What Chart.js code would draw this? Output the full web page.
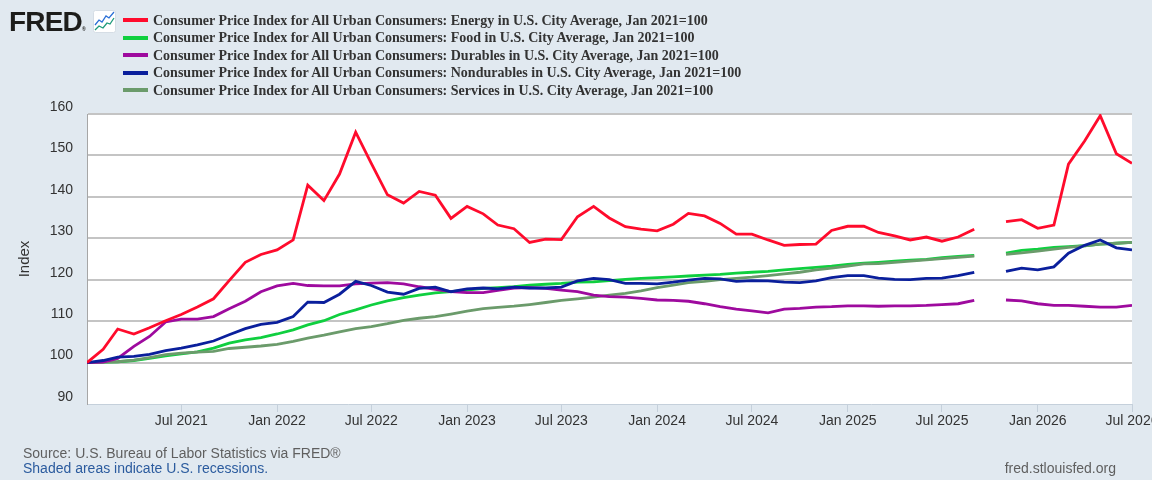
<!DOCTYPE html>
<html>
<head>
<meta charset="utf-8">
<script src="https://cdn.jsdelivr.net/npm/chart.js@4.4.1/dist/chart.umd.min.js"></script>
<style>
    html, body { margin: 0; padding: 0; width: 1152px; height: 480px; overflow: hidden; background: #e1e9f0; }
    #wrap { position: relative; width: 1152px; height: 480px; overflow: hidden; }
    #cpi-graph { position: absolute; left: 0; top: 0; }
    .logo { position: absolute; left: 9px; top: 6px; font: bold 28px "Liberation Sans", Arial, sans-serif; color: #1d1d1b; letter-spacing: -0.8px; }
    .logo sup { font-size: 5px; vertical-align: 0; letter-spacing: 0; }
    .logo-icon { position: absolute; left: 93px; top: 10px; }
    .legend { position: absolute; left: 123px; top: 12.5px; margin: 0; padding: 0; list-style: none; }
    .legend li { height: 17.5px; line-height: 17.5px; white-space: nowrap; font: bold 14px "Liberation Serif", "Times New Roman", serif; color: #333; }
    .legend .sw { display: inline-block; width: 25px; height: 4px; vertical-align: middle; margin-right: 5px; position: relative; top: -1px; }
    .foot { position: absolute; font: 14px "Liberation Sans", Arial, sans-serif; line-height: 15px; color: #5f5f5f; white-space: nowrap; }
</style>
</head>
<body>
<div id="wrap">
    <canvas id="cpi-graph" width="1200" height="480"></canvas>
    <div class="logo">FRED<sup>&reg;</sup></div>
    <svg class="logo-icon" width="23" height="23" viewBox="0 0 23 23">
        <rect x="0.5" y="0.5" width="22" height="22" rx="2" fill="#fff" stroke="#d5dde5"/>
        <polyline points="2,15 6,10 9,12 13,6 16,8 21,2" fill="none" stroke="#2a6fd6" stroke-width="1.3"/>
        <polyline points="2,20 6,16 10,18 14,13 17,14 21,8" fill="none" stroke="#1f9a7a" stroke-width="1.3"/>
    </svg>
    <ul class="legend" id="legend"></ul>
    <div class="foot" style="left:23px; top:446px;">Source: U.S. Bureau of Labor Statistics via FRED&reg;</div>
    <div class="foot" style="left:23px; top:461px; color:#2b5b9e;">Shaded areas indicate U.S. recessions.</div>
    <div class="foot" style="right:36px; top:461px;">fred.stlouisfed.org</div>
</div>
<script>
// monthly observations, Jan 2021 .. Jul 2026 (Oct 2025 missing)
const months = [];
for (let y = 2021; y <= 2026; y++) {
    for (let m = 1; m <= 12; m++) {
        if (y < 2026 || m <= 7) months.push(y + '-' + String(m).padStart(2, '0'));
    }
}

const tickMonths = ['2021-07', '2022-01', '2022-07', '2023-01', '2023-07', '2024-01',
    '2024-07', '2025-01', '2025-07', '2026-01', '2026-07'];
const tickLabels = ['Jul 2021', 'Jan 2022', 'Jul 2022', 'Jan 2023', 'Jul 2023', 'Jan 2024',
    'Jul 2024', 'Jan 2025', 'Jul 2025', 'Jan 2026', 'Jul 2026'];

const energy = [
    100.0, 103.2, 108.1, 106.9, 108.4, 110.1, 111.6, 113.4, 115.4, 119.8, 124.2, 126.1,
    127.2, 129.6, 142.8, 139.1, 145.5, 155.6, 148.1, 140.5, 138.5, 141.3, 140.4, 134.8,
    137.7, 135.9, 133.2, 132.3, 129.0, 129.8, 129.7, 135.2, 137.7, 134.9, 132.8, 132.2,
    131.8, 133.4, 136.0, 135.4, 133.6, 131.0, 131.0, 129.6, 128.3, 128.5, 128.6, 131.9,
    132.9, 132.9, 131.4, 130.6, 129.6, 130.3, 129.3, 130.3, 132.2, null, 134.0, 134.5,
    132.4, 133.2, 147.9, 153.5, 159.6, 150.4, 148.1
];
const food = [
    100.0, 100.1, 100.2, 100.5, 101.0, 101.6, 102.1, 102.6, 103.5, 104.7, 105.5, 106.0,
    106.9, 107.9, 109.1, 110.1, 111.6, 112.7, 113.9, 114.9, 115.7, 116.3, 116.8, 117.1,
    117.5, 117.9, 118.1, 118.3, 118.7, 118.9, 119.1, 119.4, 119.5, 119.8, 120.1, 120.3,
    120.5, 120.7, 120.9, 121.1, 121.3, 121.6, 121.8, 122.0, 122.4, 122.7, 123.0, 123.3,
    123.7, 124.0, 124.2, 124.5, 124.7, 124.9, 125.3, 125.6, 125.9, null, 126.4, 127.1,
    127.4, 127.8, 128.0, 128.2, 128.6, 128.8, 129.0
];
const durables = [
    100.0, 100.1, 101.0, 103.9, 106.3, 109.8, 110.5, 110.5, 111.1, 113.0, 114.8, 117.1,
    118.5, 119.1, 118.6, 118.5, 118.5, 119.0, 119.2, 119.3, 119.0, 118.3, 117.7, 117.1,
    116.9, 116.9, 117.4, 118.0, 118.1, 117.9, 117.5, 117.1, 116.3, 115.9, 115.8, 115.5,
    115.1, 115.0, 114.8, 114.2, 113.5, 112.9, 112.5, 112.0, 112.9, 113.1, 113.4, 113.5,
    113.7, 113.7, 113.6, 113.7, 113.7, 113.8, 114.0, 114.2, 115.0, null, 115.1, 114.9,
    114.2, 113.8, 113.8, 113.6, 113.4, 113.4, 113.8
];
const nondurables = [
    100.0, 100.5, 101.3, 101.5, 102.0, 102.9, 103.5, 104.3, 105.2, 106.7, 108.2, 109.2,
    109.7, 111.1, 114.6, 114.5, 116.5, 119.6, 118.6, 117.0, 116.5, 117.9, 118.2, 117.1,
    117.8, 118.0, 117.8, 118.2, 118.0, 118.0, 118.2, 119.7, 120.3, 120.0, 119.1, 119.1,
    119.0, 119.4, 119.9, 120.3, 120.2, 119.6, 119.8, 119.7, 119.4, 119.3, 119.7, 120.5,
    121.0, 121.0, 120.4, 120.1, 120.0, 120.3, 120.4, 121.0, 121.8, null, 122.0, 122.8,
    122.4, 123.1, 126.4, 128.3, 129.6, 127.7, 127.2
];
const services = [
    100.0, 100.1, 100.2, 100.6, 101.2, 101.9, 102.3, 102.5, 102.7, 103.4, 103.7, 104.0,
    104.4, 105.1, 105.9, 106.6, 107.4, 108.2, 108.7, 109.4, 110.2, 110.7, 111.1, 111.7,
    112.4, 113.0, 113.3, 113.6, 114.0, 114.5, 115.0, 115.4, 115.8, 116.3, 116.7, 117.3,
    118.1, 118.7, 119.3, 119.6, 120.0, 120.3, 120.6, 121.0, 121.4, 121.8, 122.4, 122.8,
    123.3, 123.8, 123.9, 124.2, 124.5, 124.8, 125.1, 125.4, 125.7, null, 126.1, 126.5,
    126.9, 127.4, 127.8, 128.2, 128.6, 128.8, 129.0
];

const series = [
    { label: 'Consumer Price Index for All Urban Consumers: Energy in U.S. City Average, Jan 2021=100', data: energy, color: '#ff0b2c', order: 0 },
    { label: 'Consumer Price Index for All Urban Consumers: Food in U.S. City Average, Jan 2021=100', data: food, color: '#0fcf3f', order: 4 },
    { label: 'Consumer Price Index for All Urban Consumers: Durables in U.S. City Average, Jan 2021=100', data: durables, color: '#9e0a9e', order: 2 },
    { label: 'Consumer Price Index for All Urban Consumers: Nondurables in U.S. City Average, Jan 2021=100', data: nondurables, color: '#0a1f9c', order: 1 },
    { label: 'Consumer Price Index for All Urban Consumers: Services in U.S. City Average, Jan 2021=100', data: services, color: '#6b9b6b', order: 3 },
];

function month_to_day(s) {
    const parts = s.split('-');
    return Date.UTC(+parts[0], +parts[1] - 1, 1) / 86400000;
}

const monthDays = months.map(month_to_day);
const tickDays = tickMonths.map(month_to_day);

// legend drawn as html rows next to the logo
const legend = document.getElementById('legend');
series.forEach(s => {
    const li = document.createElement('li');
    const sw = document.createElement('span');
    sw.className = 'sw';
    sw.style.background = s.color;
    li.appendChild(sw);
    li.appendChild(document.createTextNode(s.label));
    legend.appendChild(li);
});

const plotBackground = {
    id: 'plotBackground',
    beforeDraw(chart) {
        const {ctx, chartArea: a} = chart;
        ctx.save();
        ctx.fillStyle = '#ffffff';
        ctx.fillRect(a.left, a.top, a.right - a.left, a.bottom - a.top);
        ctx.restore();
    }
};

Chart.defaults.font.family = '"Liberation Sans", Arial, sans-serif';
Chart.defaults.color = '#333';

const config = {
    type: 'line',
    data: {
        labels: monthDays,
        datasets: series.map(s => ({
            label: s.label,
            data: s.data,
            borderColor: s.color,
            backgroundColor: s.color,
            order: s.order,
        })),
    },
    options: {
        responsive: false,
        animation: false,
        layout: { padding: { left: 0, top: 114, right: 68, bottom: 0 } },
        elements: {
            point: { radius: 0 },
            line: { borderWidth: 2.8, tension: 0 },
        },
        plugins: {
            legend: { display: false },
            tooltip: { enabled: false },
        },
        scales: {
            x: {
                type: 'linear',
                min: monthDays[0],
                max: monthDays[monthDays.length - 1],
                afterBuildTicks: (scale) => { scale.ticks = tickDays.map(v => ({ value: v })); },
                afterFit: (scale) => { scale.height = 76; },
                grid: { drawOnChartArea: false, color: '#c5d0db', tickLength: 8 },
                border: { color: '#c5d0db' },
                ticks: {
                    autoSkip: false,
                    maxRotation: 0,
                    padding: 1,
                    font: { size: 14 },
                    callback: (value) => tickLabels[tickDays.indexOf(value)],
                },
            },
            y: {
                min: 90,
                max: 160,
                afterFit: (scale) => { scale.width = 87; },
                grid: {
                    color: (c) => c.tick.value === 90 ? 'rgba(0,0,0,0)' : '#c4c4c4',
                    lineWidth: 2,
                    drawTicks: false,
                },
                border: { color: '#a6a6a6', width: 1 },
                ticks: { stepSize: 10, padding: 14, labelOffset: -7, font: { size: 14 } },
                title: { display: true, text: 'Index', font: { size: 15 }, padding: { top: 16, bottom: 0 } },
            },
        },
    },
    plugins: [plotBackground],
};

new Chart(document.getElementById('cpi-graph'), config);
</script>
</body>
</html>
